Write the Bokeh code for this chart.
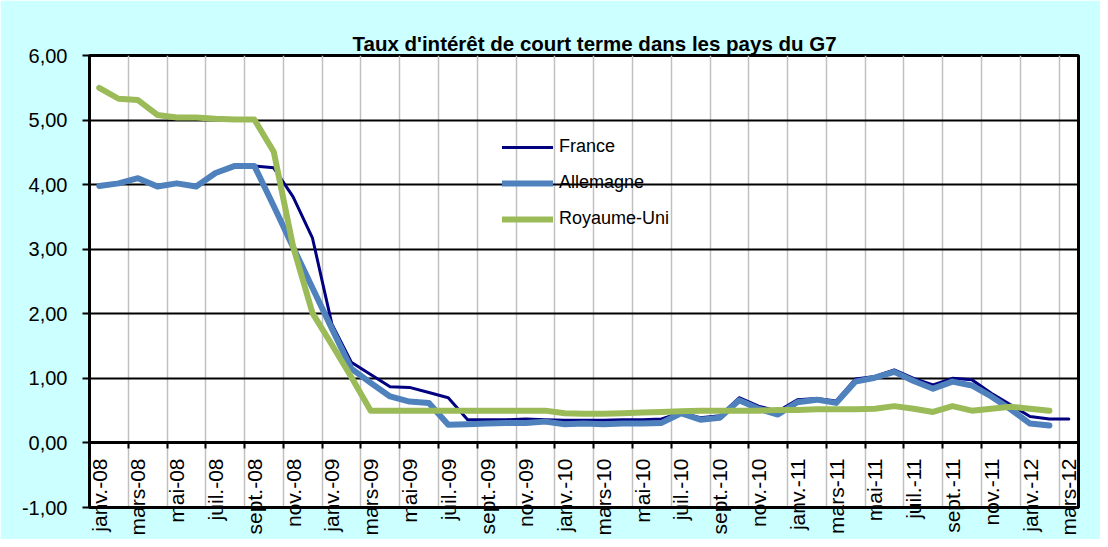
import math
from bokeh.plotting import figure
from bokeh.models import FixedTicker, LinearAxis, Range1d, Legend, LegendItem
from bokeh.embed import file_html
from bokeh.resources import INLINE

# ---- data ----
months = [
    "janv.-08", "févr.-08", "mars-08", "avr.-08", "mai-08", "juin-08", "juil.-08", "août-08", "sept.-08", "oct.-08", "nov.-08", "déc.-08",
    "janv.-09", "févr.-09", "mars-09", "avr.-09", "mai-09", "juin-09", "juil.-09", "août-09", "sept.-09", "oct.-09", "nov.-09", "déc.-09",
    "janv.-10", "févr.-10", "mars-10", "avr.-10", "mai-10", "juin-10", "juil.-10", "août-10", "sept.-10", "oct.-10", "nov.-10", "déc.-10",
    "janv.-11", "févr.-11", "mars-11", "avr.-11", "mai-11", "juin-11", "juil.-11", "août-11", "sept.-11", "oct.-11", "nov.-11", "déc.-11",
    "janv.-12", "févr.-12", "mars-12",
]
france = [3.98, 4.02, 4.10, 3.97, 4.02, 3.97, 4.18, 4.29, 4.29, 4.26, 3.81, 3.17,
          1.84, 1.25, 1.06, 0.87, 0.86, 0.78, 0.70, 0.36, 0.36, 0.36, 0.37, 0.36,
          0.35, 0.35, 0.35, 0.36, 0.36, 0.37, 0.47, 0.39, 0.42, 0.70, 0.57, 0.49,
          0.67, 0.69, 0.65, 0.99, 1.03, 1.13, 1.00, 0.90, 1.00, 0.98, 0.77, 0.59,
          0.41, 0.37, 0.37]
allemagne = [3.98, 4.02, 4.10, 3.97, 4.02, 3.97, 4.18, 4.29, 4.29, 3.67, 3.03, 2.40,
             1.77, 1.15, 0.93, 0.72, 0.64, 0.62, 0.28, 0.29, 0.30, 0.31, 0.31, 0.33,
             0.29, 0.30, 0.29, 0.30, 0.30, 0.31, 0.46, 0.36, 0.39, 0.66, 0.53, 0.44,
             0.63, 0.67, 0.62, 0.95, 1.01, 1.10, 0.96, 0.84, 0.95, 0.89, 0.72, 0.52,
             0.30, 0.27]
royaume_uni = [5.50, 5.33, 5.31, 5.08, 5.04, 5.04, 5.02, 5.01, 5.01, 4.51, 3.04, 2.01,
               1.52, 1.02, 0.50, 0.50, 0.50, 0.50, 0.50, 0.50, 0.50, 0.50, 0.50, 0.50,
               0.46, 0.45, 0.45, 0.46, 0.47, 0.48, 0.49, 0.50, 0.50, 0.50, 0.50, 0.51,
               0.51, 0.52, 0.52, 0.52, 0.53, 0.57, 0.53, 0.48, 0.57, 0.50, 0.53, 0.56,
               0.53, 0.50]
series_names = ["France", "Allemagne", "Royaume-Uni"]
y_ticks = [-1, 0, 1, 2, 3, 4, 5, 6]
y_tick_labels = ["-1,00", "0,00", "1,00", "2,00", "3,00", "4,00", "5,00", "6,00"]
title_text = "Taux d'intérêt de court terme dans les pays du G7"

FONT = "Liberation Sans"
CYAN = "#CCFFFF"
n = len(months)
label_idx = list(range(0, n, 2))
boundaries = [i + 1.5 for i in range(0, n - 2, 2)]

p = figure(width=1100, height=539,
           x_range=Range1d(-0.5, n - 0.5), y_range=Range1d(y_ticks[0], y_ticks[-1]),
           output_backend="svg", toolbar_location=None,
           min_border_left=89, min_border_right=22, min_border_top=55, min_border_bottom=32,
           border_fill_color=CYAN, background_fill_color="white")
p.outline_line_color = "black"
p.outline_line_width = 3

p.title.text = title_text
p.title.text_font = FONT
p.title.text_font_size = "20.5px"
p.title.text_font_style = "bold"
p.title.text_color = "black"
p.title.align = "left"
p.title.offset = 263
p.title.standoff = 1

# grids
p.xgrid.ticker = FixedTicker(ticks=boundaries)
p.xgrid.grid_line_color = "#C0C0C0"
p.xgrid.grid_line_width = 1.5
p.ygrid.ticker = FixedTicker(ticks=y_ticks)
p.ygrid.grid_line_color = "black"
p.ygrid.grid_line_width = 2

# bottom axis: labels only
xa = p.xaxis[0]
xa.ticker = FixedTicker(ticks=label_idx)
xa.major_label_overrides = {i: months[i] for i in label_idx}
xa.major_label_orientation = math.pi / 2
xa.major_label_standoff = -49
xa.major_tick_out = 0
xa.major_tick_in = 0
xa.minor_tick_out = 0
xa.minor_tick_in = 0
xa.axis_line_width = 3
xa.axis_line_color = "black"
xa.major_label_text_font = FONT
xa.major_label_text_font_size = "21px"
xa.major_label_text_color = "black"

# category axis crossing at zero, with tick marks
x0 = LinearAxis(fixed_location=0, ticker=FixedTicker(ticks=boundaries),
                major_label_overrides={b: "" for b in boundaries},
                major_tick_out=6, major_tick_in=0, minor_tick_out=0, minor_tick_in=0,
                axis_line_width=3, axis_line_color="black", major_tick_line_width=2,
                major_label_text_font_size="1px")
p.add_layout(x0, "below")

ya = p.yaxis[0]
ya.ticker = FixedTicker(ticks=y_ticks)
ya.major_label_overrides = dict(zip(y_ticks, y_tick_labels))
ya.major_tick_out = 7
ya.major_tick_in = 0
ya.minor_tick_out = 0
ya.minor_tick_in = 0
ya.major_tick_line_width = 2
ya.axis_line_width = 3
ya.axis_line_color = "black"
ya.major_label_standoff = 15
ya.major_label_text_font = FONT
ya.major_label_text_font_size = "20px"
ya.major_label_text_color = "black"

rf = p.line(list(range(len(france))), france, line_color="#000080", line_width=3, line_join="round", line_cap="round")
ra = p.line(list(range(len(allemagne))), allemagne, line_color="#4F81BD", line_width=6, line_join="round", line_cap="round")
ru = p.line(list(range(len(royaume_uni))), royaume_uni, line_color="#9BBB59", line_width=6, line_join="round", line_cap="round")

legend = Legend(items=[LegendItem(label=series_names[0], renderers=[rf]),
                       LegendItem(label=series_names[1], renderers=[ra]),
                       LegendItem(label=series_names[2], renderers=[ru])],
                location=(413, 278), background_fill_alpha=0, border_line_alpha=0,
                padding=0, margin=0, spacing=15, glyph_width=51, glyph_height=20,
                label_height=20, label_standoff=6, label_text_font=FONT,
                label_text_font_size="18px", label_text_color="black")
p.add_layout(legend)

open("out.html", "w").write(file_html(p, INLINE))
